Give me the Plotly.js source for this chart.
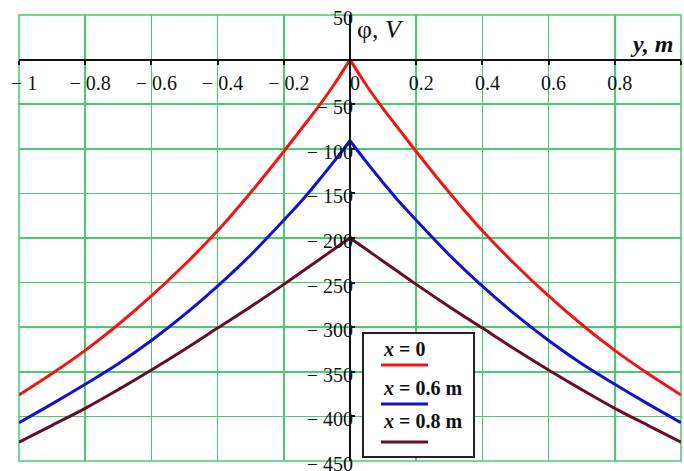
<!DOCTYPE html>
<html>
<head>
<meta charset="utf-8">
<script src="https://cdn.plot.ly/plotly-3.0.1.min.js"></script>
<style>
  html, body { margin: 0; padding: 0; background: #ffffff; }
  #chart { width: 684px; height: 471px; }
</style>
</head>
<body>
<div id="chart"></div>
<script>
// Potential distribution across the plate, y in metres, phi in volts
const yCoord = [-1, -0.9, -0.8, -0.7, -0.6, -0.5, -0.4, -0.3, -0.2, -0.15, -0.1, -0.05, 0,
                0.05, 0.1, 0.15, 0.2, 0.3, 0.4, 0.5, 0.6, 0.7, 0.8, 0.9, 1];
const phiX0 = [-376, -352, -326, -297, -265, -230, -192, -149, -103, -79, -55, -29, 0,
               -29, -55, -79, -103, -149, -192, -230, -265, -297, -326, -352, -376];
const phiX06 = [-407, -386, -364, -341, -315, -286, -254, -219, -180, -160, -138, -115, -91,
                -115, -138, -160, -180, -219, -254, -286, -315, -341, -364, -386, -407];
const phiX08 = [-429, -410, -391, -370, -348, -325, -301, -277, -252, -239, -226, -213, -200,
                -213, -226, -239, -252, -277, -301, -325, -348, -370, -391, -410, -429];

const seriesNames = ['x = 0', 'x = 0.6 m', 'x = 0.8 m'];
const seriesLabels = ['<b><i>x</i> = 0</b>', '<b><i>x</i> = 0.6 m</b>', '<b><i>x</i> = 0.8 m</b>'];
const seriesColors = ['rgb(240,22,22)', 'rgb(18,18,205)', 'rgb(104,12,42)'];
const seriesValues = [phiX0, phiX06, phiX08];

const xTickVals = [-1, -0.8, -0.6, -0.4, -0.2, 0, 0.2, 0.4, 0.6, 0.8, 1];
const xTickText = ['\u2212 1', '\u2212 0.8', '\u2212 0.6', '\u2212 0.4', '\u2212 0.2', '0',
                   '0.2', '0.4', '0.6', '0.8', ''];
const yTickVals = [50, 0, -50, -100, -150, -200, -250, -300, -350, -400, -450];
const yTickText = ['50', '', '\u2212 50', '\u2212 100', '\u2212 150', '\u2212 200', '\u2212 250',
                   '\u2212 300', '\u2212 350', '\u2212 400', '\u2212 450'];

const W = 684, H = 471;
const M = { l: 19, r: 3, t: 15, b: 10 };
const pw = W - M.l - M.r, ph = H - M.t - M.b;
// pixel -> paper helpers for the legend box
const px = v => (v - M.l) / pw;
const py = v => (H - M.b - v) / ph;

const SERIF = 'Liberation Serif, Times New Roman, serif';
const GRID = 'rgb(70,205,110)';

// each curve is drawn as two smooth branches meeting at the sharp peak at y = 0
const iPeak = yCoord.indexOf(0);
const traces = [];
seriesValues.forEach((vals, k) => {
  [[0, iPeak + 1], [iPeak, yCoord.length]].forEach(([a, b]) => {
    traces.push({
      x: yCoord.slice(a, b),
      y: vals.slice(a, b),
      type: 'scatter',
      mode: 'lines',
      name: seriesNames[k],
      showlegend: false,
      hoverinfo: 'skip',
      line: { color: seriesColors[k], width: 3, shape: 'spline', smoothing: 1 }
    });
  });
});

const shapes = [
  // plot frame
  { type: 'rect', xref: 'paper', yref: 'paper', x0: 0, x1: 1, y0: 0, y1: 1,
    line: { color: GRID, width: 1.5 }, layer: 'below' },
  // legend box
  { type: 'rect', xref: 'paper', yref: 'paper', x0: px(363), x1: px(474), y0: py(457), y1: py(333),
    line: { color: '#222', width: 2 }, fillcolor: 'white', layer: 'above' }
];
const legendLineY = [365, 404, 442];
const legendTextY = [349, 388, 421];
const annotations = [];
seriesColors.forEach((c, k) => {
  shapes.push({ type: 'line', xref: 'paper', yref: 'paper', x0: px(381), x1: px(428),
                y0: py(legendLineY[k]), y1: py(legendLineY[k]),
                line: { color: c, width: 3 }, layer: 'above' });
  annotations.push({ xref: 'paper', yref: 'paper', x: px(381), y: py(legendTextY[k]),
                     xanchor: 'left', yanchor: 'middle', showarrow: false,
                     text: seriesLabels[k], font: { family: SERIF, size: 20, color: '#111' } });
});
// axis captions
annotations.push({ xref: 'paper', yref: 'paper', x: px(355), y: py(30), xanchor: 'left', yanchor: 'middle',
                   showarrow: false, text: '\u03c6, <i>V</i>', font: { family: SERIF, size: 26, color: '#111' } });
annotations.push({ xref: 'paper', yref: 'paper', x: px(675), y: py(44), xanchor: 'right', yanchor: 'middle',
                   showarrow: false, text: '<b><i>y, m</i></b>', font: { family: SERIF, size: 24, color: '#111' } });

const layout = {
  width: W, height: H,
  margin: M,
  paper_bgcolor: 'white', plot_bgcolor: 'white',
  showlegend: false,
  font: { family: SERIF, size: 20, color: '#111' },
  xaxis: {
    range: [-1, 1], fixedrange: true,
    anchor: 'free', position: 0.9, side: 'bottom',
    tickmode: 'array', tickvals: xTickVals, ticktext: xTickText,
    showgrid: true, gridcolor: GRID, gridwidth: 1.5,
    zeroline: false,
    showline: true, linecolor: '#111', linewidth: 2,
    ticks: 'outside', ticklen: 4, tickwidth: 2, tickcolor: '#111',
    ticklabelshift: 5, ticklabelstandoff: 1,
    tickfont: { family: SERIF, size: 20, color: '#111' }
  },
  yaxis: {
    range: [-450, 50], fixedrange: true,
    anchor: 'free', position: 0.5, side: 'left',
    tickmode: 'array', tickvals: yTickVals, ticktext: yTickText,
    showgrid: true, gridcolor: GRID, gridwidth: 1.5,
    zeroline: false,
    showline: true, linecolor: '#111', linewidth: 2,
    ticks: 'inside', ticklen: 4, tickwidth: 2, tickcolor: '#111',
    ticklabelstandoff: -8, ticklabelshift: 3, ticklabeloverflow: 'allow',
    tickfont: { family: SERIF, size: 20, color: '#111' }
  },
  shapes: shapes,
  annotations: annotations
};

Plotly.newPlot('chart', traces, layout, { staticPlot: true, displayModeBar: false });
</script>
</body>
</html>
